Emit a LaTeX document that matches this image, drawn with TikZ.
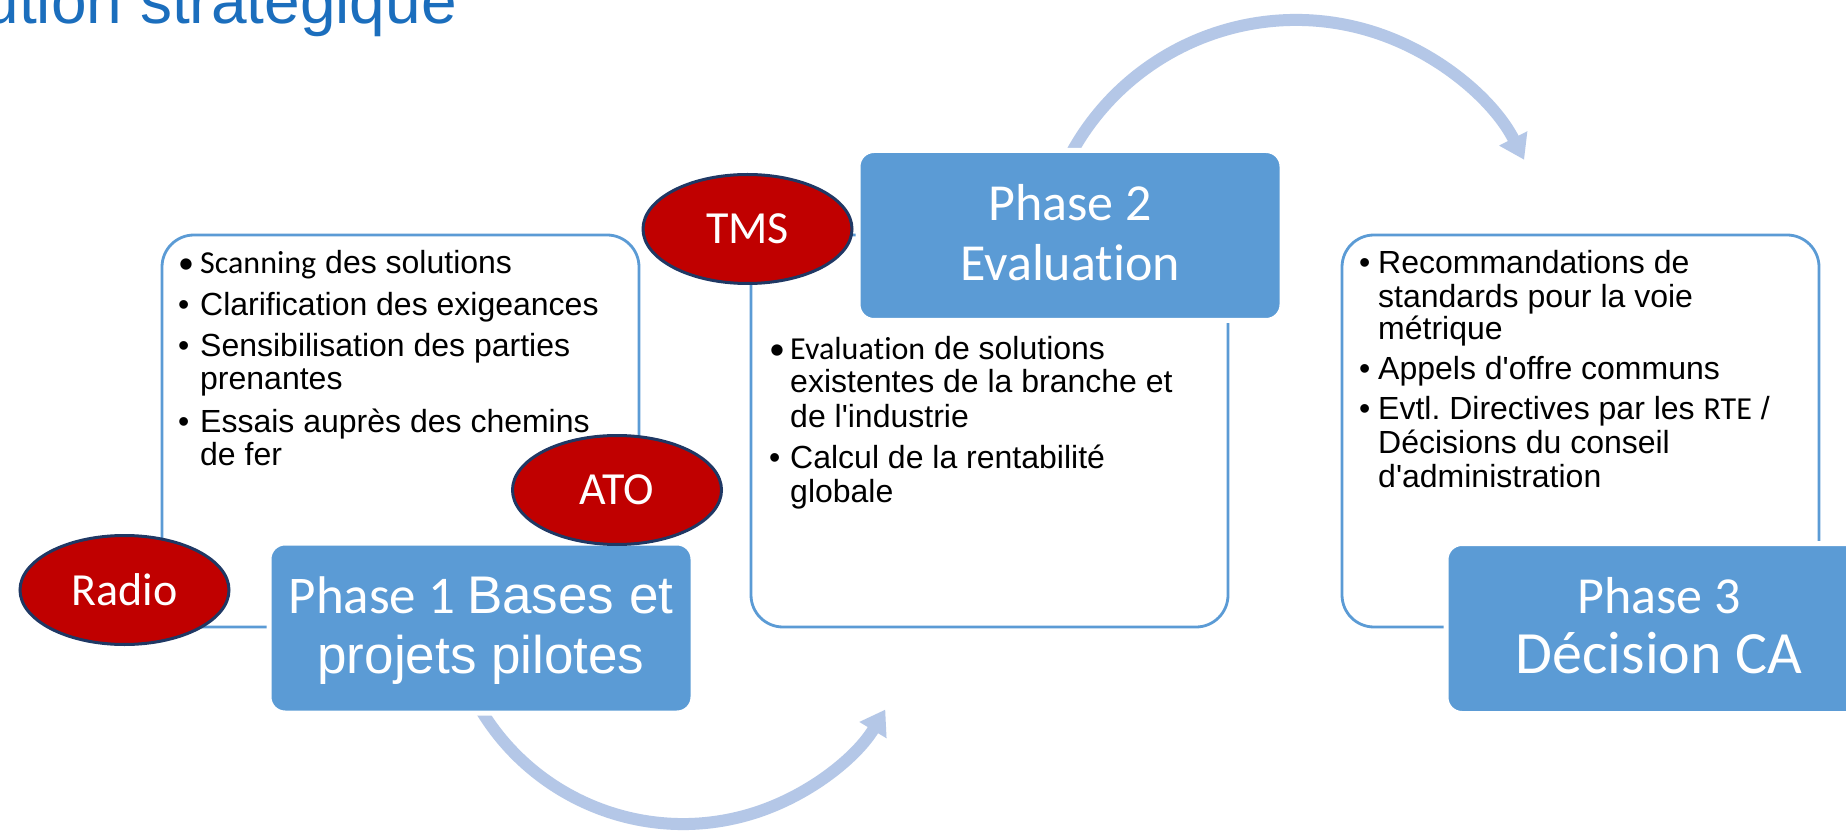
\documentclass[tikz,border=0pt]{standalone}
\usepackage{fontspec}
\setmainfont{Liberation Sans}
\newfontfamily\arialf[Ligatures=TeXOff]{Liberation Sans}
\newfontfamily\calfont[Ligatures={TeXOff,NoCommon}]{Carlito}
\usetikzlibrary{arrows.meta,shapes.geometric}
\definecolor{phaseblue}{HTML}{5B9BD5}
\definecolor{arrowblue}{HTML}{B4C7E7}
\definecolor{ellred}{HTML}{C00000}
\definecolor{ellborder}{HTML}{1F3864}
\definecolor{titleblue}{HTML}{1B6EBD}
\frenchspacing
\begin{document}
\begin{tikzpicture}[x=1pt,y=1pt,
  outbox/.style={draw=phaseblue, line width=2.8pt, rounded corners=32pt, minimum width=477pt, minimum height=392pt, inner sep=0pt},
  phasebox/.style={fill=phaseblue, draw=white, line width=5pt, rounded corners=16pt, minimum width=424pt, minimum height=170pt, inner sep=0pt},
  tag/.style={ellipse, fill=ellred, draw=ellborder, line width=3pt, minimum width=209pt, minimum height=109pt, inner sep=0pt, text=white, font=\calfont\fontsize{46}{50}\selectfont},
  flow/.style={draw=arrowblue, line width=12pt, -{Triangle[width=30pt,length=24pt]}},
  bul/.style={anchor=base west, inner sep=0pt, font=\arialf\fontsize{32}{34}\selectfont},
  ptext/.style={anchor=base, inner sep=0pt, text=white},
]
\useasboundingbox (0,0) rectangle (1846,831);
\fill[white] (0,0) rectangle (1846,831);
\clip (0,0) rectangle (1846,831);

% title
\node[anchor=base east, inner sep=0pt, text=titleblue, font=\arialf\fontsize{64}{72}\selectfont] (title) at (457,807) {ution stratégique};

% curved arrows
\coordinate (c1) at (683,243);
\coordinate (c2) at (1296,555);
\draw[flow] (c1) ++(200:236) arc[start angle=200, end angle=329, radius=236];
\draw[flow] (c2) ++(160:256) arc[start angle=160, end angle=27, radius=256];

% outline boxes
\node[outbox] (b1) at (400.5,400) {};
\node[outbox] (b2) at (989.5,400) {};
\node[outbox] (b3) at (1580.5,400) {};

% phase boxes
\node[phasebox] (p1) at (481,203) {};
\node[phasebox] (p2) at (1070,595.5) {};
\node[phasebox] (p3) at (1658,202.5) {};

% ellipses
\node[tag] (radio) at (124.5,241) {Radio};
\node[tag] (ato) at (617,341) {ATO};
\node[tag] (tms) at (747.5,602) {TMS};

% phase texts
\node[ptext] (p1a) at (481,218) {\calfont\fontsize{53}{60}\selectfont Phase 1 \arialf\fontsize{53}{60}\selectfont Bases et};
\node[ptext] (p1b) at (481,158) {\arialf\fontsize{53}{60}\selectfont projets pilotes};
\node[ptext] (p2a) at (1070,610) {\calfont\fontsize{52}{60}\selectfont Phase 2};
\node[ptext] (p2b) at (1070,550) {\calfont\fontsize{52}{60}\selectfont Evaluation};
\node[ptext] (p3a) at (1659,218) {\calfont\fontsize{52}{60}\selectfont Phase 3};
\node[ptext] (p3b) at (1659,158) {\calfont\fontsize{60}{66}\selectfont Décision CA};

% box 1 bullets
\node[bul] (k1a) at (178,557) {\calfont •};
\node[bul] (t1a) at (200,557) {{\calfont Scanning} des solutions};
\node[bul] (k1b) at (178,515) {•};
\node[bul] (t1b) at (200,515) {Clarification des exigeances};
\node[bul] (k1c) at (178,474) {•};
\node[bul] (t1c) at (200,474) {Sensibilisation des parties};
\node[bul] (t1d) at (200,441) {prenantes};
\node[bul] (k1e) at (178,399) {•};
\node[bul] (t1e) at (200,399) {Essais auprès des chemins};
\node[bul] (t1f) at (200,366) {de fer};

% box 2 bullets
\node[bul] (k2a) at (769,471) {\calfont •};
\node[bul] (t2a) at (790,471) {{\calfont Evaluation} de solutions};
\node[bul] (t2b) at (790,438) {existentes de la branche et};
\node[bul] (t2c) at (790,404) {de l'industrie};
\node[bul] (k2d) at (769,363) {•};
\node[bul] (t2d) at (790,363) {Calcul de la rentabilité};
\node[bul] (t2e) at (790,329) {globale};

% box 3 bullets
\node[bul] (k3a) at (1359,557) {•};
\node[bul] (t3a) at (1378,557) {Recommandations de};
\node[bul] (t3b) at (1378,523) {standards pour la voie};
\node[bul] (t3c) at (1378,491) {métrique};
\node[bul] (k3d) at (1359,451) {•};
\node[bul] (t3d) at (1378,451) {Appels d'offre communs};
\node[bul] (k3e) at (1359,411) {•};
\node[bul] (t3e) at (1378,411) {Evtl. Directives par les {\calfont RTE} /};
\node[bul] (t3f) at (1378,377.5) {Décisions du conseil};
\node[bul] (t3g) at (1378,344) {d'administration};
\end{tikzpicture}
\end{document}
